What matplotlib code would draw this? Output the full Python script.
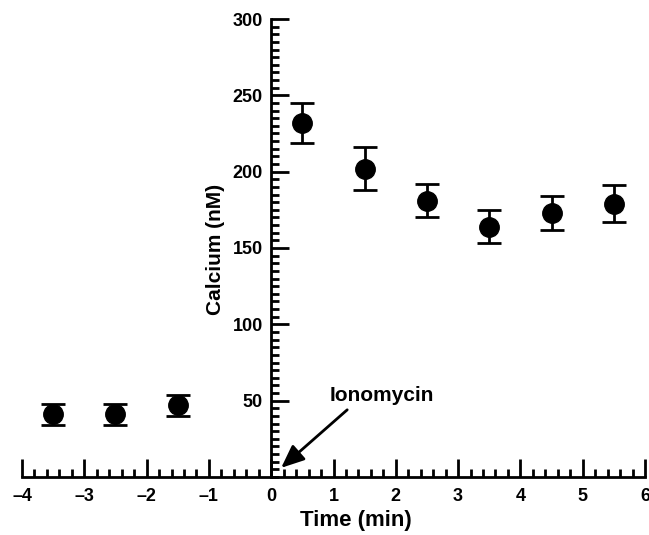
import numpy as np
import matplotlib.pyplot as plt
from matplotlib.ticker import MultipleLocator, FixedLocator

plt.rcParams['font.family'] = ['Liberation Sans', 'DejaVu Sans']
plt.rcParams['font.weight'] = 'bold'

time_min = [-3.5, -2.5, -1.5, 0.5, 1.5, 2.5, 3.5, 4.5, 5.5]
calcium_nm = [41, 41, 47, 232, 202, 181, 164, 173, 179]
calcium_err = [7, 7, 7, 13, 14, 11, 11, 11, 12]
y_major = [50, 100, 150, 200, 250, 300]
x_major = [-4, -3, -2, -1, 0, 1, 2, 3, 4, 5, 6]

fig = plt.figure(figsize=(6.49, 5.35), dpi=100)
ax = fig.add_axes([22 / 649, 58 / 535, 623 / 649, 458 / 535])

ax.errorbar(time_min, calcium_nm, yerr=calcium_err, fmt='o', color='black',
            markersize=14, elinewidth=2, capsize=8.5, capthick=2, clip_on=False)

ax.set_xlim(-4, 6)
ax.set_ylim(0, 300)
ax.spines['left'].set_position(('data', 0))
ax.spines['bottom'].set_position(('data', 0))
ax.spines['top'].set_visible(False)
ax.spines['right'].set_visible(False)
ax.spines['left'].set_linewidth(2)
ax.spines['bottom'].set_linewidth(2)

ax.xaxis.set_major_locator(FixedLocator(x_major))
ax.xaxis.set_minor_locator(MultipleLocator(0.2))
ax.set_xticklabels(['\u20134', '\u20133', '\u20132', '\u20131', '0', '1', '2', '3', '4', '5', '6'])
ax.yaxis.set_major_locator(FixedLocator(y_major))
ax.yaxis.set_minor_locator(MultipleLocator(5))

ax.tick_params(axis='both', which='major', direction='in', length=13, width=2,
               labelsize=13)
ax.tick_params(axis='both', which='minor', direction='in', length=6, width=2)
ax.tick_params(axis='x', which='major', pad=8)
ax.tick_params(axis='y', which='major', pad=6)

ax.set_xlabel('Time (min)', fontsize=16, fontweight='bold', va='center')
ax.xaxis.set_label_coords(0.536, -0.096)
ax.set_ylabel('Calcium (nM)', fontsize=15, fontweight='bold', va='center')
ax.yaxis.set_label_coords(0.31, 0.496)

ax.text(1.78, 47, 'Ionomycin', fontsize=15, fontweight='bold',
        ha='center', va='bottom')
ax.annotate('', xy=(0.16, 6), xytext=(1.22, 44),
            arrowprops=dict(arrowstyle='-|>,head_length=1.4,head_width=0.6',
                            color='black', lw=2, shrinkA=0, shrinkB=0))

fig.savefig('out.png', dpi=100)
